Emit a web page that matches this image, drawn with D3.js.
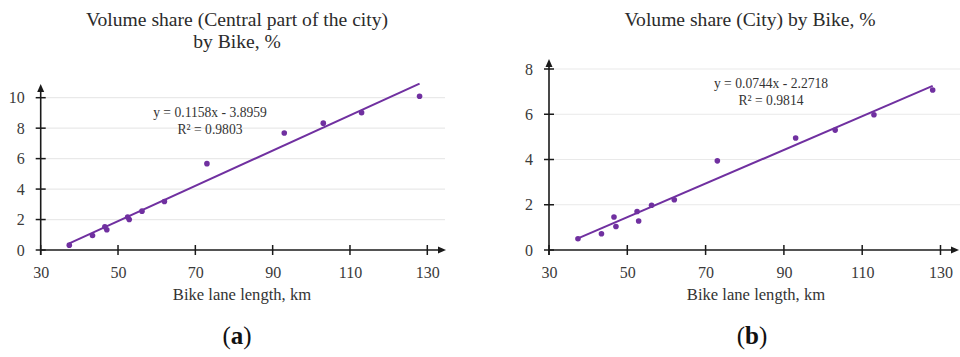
<!DOCTYPE html>
<html>
<head>
<meta charset="utf-8">
<script src="https://cdn.jsdelivr.net/npm/d3@7"></script>
<style>
  html, body { margin: 0; padding: 0; background: #fff; }
  svg { display: block; }
  text { font-family: "Liberation Serif", "DejaVu Serif", serif; }
</style>
</head>
<body>
<svg id="chart" width="960" height="357"></svg>
<script>
// ---- data ----
const laneLength = [37.4, 43.4, 46.6, 47.1, 52.5, 52.9, 56.2, 62.0, 73.0, 93.0, 103.1, 113.0, 128.0];
const shareCentral = [0.32, 0.95, 1.52, 1.33, 2.17, 2.0, 2.55, 3.18, 5.67, 7.68, 8.33, 9.02, 10.1];
const shareCity = [0.5, 0.72, 1.46, 1.04, 1.7, 1.28, 1.98, 2.22, 3.94, 4.95, 5.3, 5.98, 7.07];
const xTicks = [30, 50, 70, 90, 110, 130];
const yTicksCentral = [0, 2, 4, 6, 8, 10];
const yTicksCity = [0, 2, 4, 6, 8];
const fitCentral = { slope: 0.1158, intercept: -3.8959, label: "y = 0.1158x - 3.8959", r2: "R² = 0.9803" };
const fitCity = { slope: 0.0744, intercept: -2.2718, label: "y = 0.0744x - 2.2718", r2: "R² = 0.9814" };

const svg = d3.select("#chart");
const purple = "#7030a0";
const axisColor = "#1a1a1a";

function panel(cfg) {
  const g = svg.append("g");
  const x = d3.scaleLinear().domain([30, 130]).range([cfg.x0, cfg.x1]);
  const y = d3.scaleLinear().domain([0, cfg.yMax]).range([250, cfg.yTop]);

  // gridlines
  g.append("g").selectAll("line").data(cfg.yTicks.filter(d => d > 0)).join("line")
    .attr("x1", cfg.x0).attr("x2", cfg.gridEnd)
    .attr("y1", d => y(d)).attr("y2", d => y(d))
    .attr("stroke", "#e9e9e9").attr("stroke-width", 1.2);

  // x axis
  const xa = g.append("g").attr("transform", `translate(0,${y(0)})`)
    .call(d3.axisBottom(x).tickValues(xTicks).tickSize(0).tickPadding(17));
  xa.select(".domain").remove();
  xa.selectAll("text").attr("font-size", 16).attr("fill", "#3a3a3a")
    .attr("font-family", "Liberation Serif");
  xa.selectAll(".tk").data(xTicks).join("line").attr("class", "tk")
    .attr("x1", d => x(d)).attr("x2", d => x(d)).attr("y1", -5).attr("y2", 5)
    .attr("stroke", axisColor).attr("stroke-width", 1.5);
  xa.append("line").attr("x1", cfg.x0).attr("x2", cfg.xArrow - 6).attr("y1", 0).attr("y2", 0)
    .attr("stroke", axisColor).attr("stroke-width", 1.6);
  xa.append("path").attr("d", `M${cfg.xArrow},0 L${cfg.xArrow - 8},-3.5 L${cfg.xArrow - 8},3.5 Z`)
    .attr("fill", axisColor);

  // y axis
  const ya = g.append("g").attr("transform", `translate(${cfg.x0},0)`)
    .call(d3.axisLeft(y).tickValues(cfg.yTicks).tickSize(0).tickPadding(16));
  ya.select(".domain").remove();
  ya.selectAll("text").attr("font-size", 16).attr("fill", "#3a3a3a")
    .attr("font-family", "Liberation Serif");
  ya.selectAll(".tk").data(cfg.yTicks).join("line").attr("class", "tk")
    .attr("x1", -5).attr("x2", 5).attr("y1", d => y(d)).attr("y2", d => y(d))
    .attr("stroke", axisColor).attr("stroke-width", 1.5);
  ya.append("line").attr("x1", 0).attr("x2", 0).attr("y1", 255).attr("y2", cfg.yArrow + 6)
    .attr("stroke", axisColor).attr("stroke-width", 1.6);
  ya.append("path").attr("d", `M0,${cfg.yArrow} L-3.5,${cfg.yArrow + 8} L3.5,${cfg.yArrow + 8} Z`)
    .attr("fill", axisColor);

  // trend line
  const xs = d3.extent(laneLength);
  g.append("line")
    .attr("x1", x(xs[0])).attr("y1", y(cfg.fit.slope * xs[0] + cfg.fit.intercept))
    .attr("x2", x(xs[1])).attr("y2", y(cfg.fit.slope * xs[1] + cfg.fit.intercept))
    .attr("stroke", purple).attr("stroke-width", 2);

  // points
  g.append("g").selectAll("circle").data(laneLength.map((d, i) => [d, cfg.values[i]])).join("circle")
    .attr("cx", d => x(d[0])).attr("cy", d => y(d[1])).attr("r", 2.8).attr("fill", purple);

  // equation
  g.append("text").attr("x", cfg.eqX).attr("y", cfg.eqY).attr("text-anchor", "middle")
    .attr("font-size", 13.6).attr("fill", "#333").text(cfg.fit.label);
  g.append("text").attr("x", cfg.eqX).attr("y", cfg.eqY + 16.5).attr("text-anchor", "middle")
    .attr("font-size", 13.6).attr("fill", "#333").text(cfg.fit.r2);

  // title
  cfg.title.forEach((t, i) => {
    g.append("text").attr("x", cfg.titleX).attr("y", 26 + i * 22).attr("text-anchor", "middle")
      .attr("font-size", 19.6).attr("fill", "#2b2b2b").text(t);
  });

  // axis title
  g.append("text").attr("x", cfg.axisTitleX).attr("y", 300).attr("text-anchor", "middle")
    .attr("font-size", 16.6).attr("fill", "#333").text("Bike lane length, km");

  // panel label
  const lab = g.append("text").attr("x", cfg.labelX).attr("y", 344).attr("text-anchor", "middle")
    .attr("font-size", 25).attr("fill", "#111");
  lab.append("tspan").text("(");
  lab.append("tspan").attr("font-weight", "bold").text(cfg.letter);
  lab.append("tspan").text(")");
}

panel({
  x0: 40.7, x1: 427.3, xArrow: 446, gridEnd: 445, yMax: 10, yTop: 97.7, yArrow: 84,
  yTicks: yTicksCentral, values: shareCentral, fit: fitCentral, eqX: 210, eqY: 117,
  title: ["Volume share (Central part of the city)", "by Bike, %"], titleX: 237,
  axisTitleX: 242, labelX: 237, letter: "a"
});
panel({
  x0: 549, x1: 940.5, xArrow: 959, gridEnd: 960, yMax: 8, yTop: 69, yArrow: 59,
  yTicks: yTicksCity, values: shareCity, fit: fitCity, eqX: 771, eqY: 88,
  title: ["Volume share (City) by Bike, %"], titleX: 750,
  axisTitleX: 756, labelX: 752, letter: "b"
});
</script>
</body>
</html>
